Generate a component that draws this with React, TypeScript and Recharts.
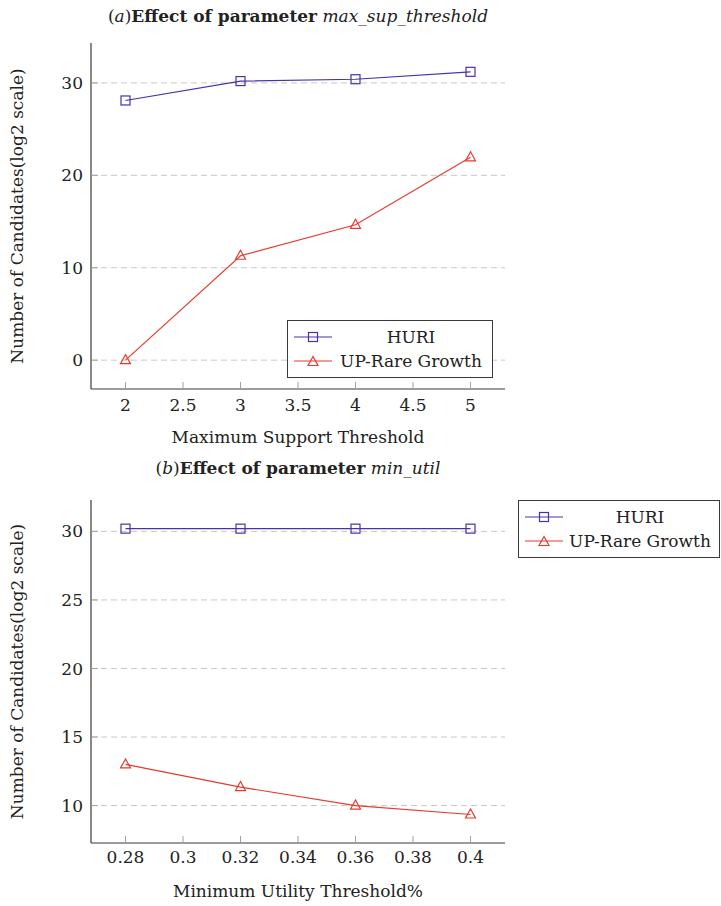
import { LineChart, Line, XAxis, YAxis, CartesianGrid, Legend } from "recharts";

const FONT = '"DejaVu Serif", "Liberation Serif", serif';
const HURI_COLOR = "#4b30a8";
const UP_COLOR = "#e63b2b";
const FRAME = "#3a3a3a";
const TICK = "#a0a0a0";
const GRID = "#c8c8c8";

// (a) effect of max_sup_threshold
const supThresholds = [2, 3, 4, 5];
const supHuri = [28.1, 30.2, 30.4, 31.2];
const supUpRare = [0, 11.3, 14.65, 21.95];
const supXTicks = [2, 2.5, 3, 3.5, 4, 4.5, 5];
const supYTicks = [0, 10, 20, 30];

// (b) effect of min_util
const utilThresholds = [0.28, 0.32, 0.36, 0.4];
const utilHuri = [30.2, 30.2, 30.2, 30.2];
const utilUpRare = [13.0, 11.35, 10.0, 9.35];
const utilXTicks = [0.28, 0.3, 0.32, 0.34, 0.36, 0.38, 0.4];
const utilYTicks = [10, 15, 20, 25, 30];

const supData = supThresholds.map((x, i) => ({
  x,
  huri: supHuri[i],
  upRare: supUpRare[i],
}));

const utilData = utilThresholds.map((x, i) => ({
  x,
  huri: utilHuri[i],
  upRare: utilUpRare[i],
}));

function squareMark(cx: number, cy: number, color: string, key?: string) {
  return (
    <rect
      key={key}
      x={cx - 4.5}
      y={cy - 4.5}
      width={9}
      height={9}
      fill="none"
      stroke={color}
      strokeWidth={1.2}
    />
  );
}

function triangleMark(cx: number, cy: number, color: string, key?: string) {
  return (
    <polygon
      key={key}
      points={`${cx},${cy - 5.5} ${cx - 5},${cy + 3.5} ${cx + 5},${cy + 3.5}`}
      fill="none"
      stroke={color}
      strokeWidth={1.2}
    />
  );
}

const SquareDot = (props: any) => {
  const { cx, cy, index } = props;
  if (cx == null || cy == null) return <g key={`sq-${index}`} />;
  return squareMark(cx, cy, HURI_COLOR, `sq-${index}`);
};

const TriangleDot = (props: any) => {
  const { cx, cy, index } = props;
  if (cx == null || cy == null) return <g key={`tr-${index}`} />;
  return triangleMark(cx, cy, UP_COLOR, `tr-${index}`);
};

function LegendBox({ payload, width }: any) {
  return (
    <div
      style={{
        width,
        boxSizing: "border-box",
        border: `1px solid ${FRAME}`,
        background: "#fff",
        padding: "4px 6px 4px 6px",
        fontFamily: FONT,
        fontSize: 17,
        color: "#222",
      }}
    >
      {(payload || []).map((entry: any) => (
        <div
          key={entry.value}
          style={{ display: "flex", alignItems: "center", height: 24 }}
        >
          <svg width={38} height={14} style={{ flexShrink: 0 }}>
            <line x1={0} y1={7} x2={38} y2={7} stroke={entry.color} strokeWidth={1.2} />
            {entry.dataKey === "huri"
              ? squareMark(19, 7, entry.color)
              : triangleMark(19, 8, entry.color)}
          </svg>
          <span style={{ flex: 1, textAlign: "center", marginLeft: 4, whiteSpace: "nowrap" }}>
            {entry.value}
          </span>
        </div>
      ))}
    </div>
  );
}

const tickStyle = { fill: "#222", fontFamily: FONT, fontSize: 17 };
const labelStyle = { fill: "#222", fontFamily: FONT, fontSize: 17, textAnchor: "middle" as const };

function Title({ letter, param, top }: { letter: string; param: string; top: number }) {
  return (
    <div
      style={{
        position: "absolute",
        left: 0,
        top,
        width: 596,
        textAlign: "center",
        fontFamily: FONT,
        fontSize: 17,
        lineHeight: "24px",
        color: "#222",
        whiteSpace: "nowrap",
      }}
    >
      (<i>{letter}</i>)<b>Effect of parameter</b> <i>{param}</i>
    </div>
  );
}

function Panel(props: {
  data: any[];
  height: number;
  top: number;
  plotHeight: number;
  xDomain: [number, number];
  yDomain: [number, number];
  xTicks: number[];
  yTicks: number[];
  xLabel: string;
  xLabelOffset: number;
  xTickMargin: number;
  legendStyle: any;
  legendWidth: number;
}) {
  const {
    data,
    height,
    top,
    plotHeight,
    xDomain,
    yDomain,
    xTicks,
    yTicks,
    xLabel,
    xLabelOffset,
    xTickMargin,
    legendStyle,
    legendWidth,
  } = props;
  return (
    <LineChart
      width={721}
      height={height}
      data={data}
      margin={{ top, right: 216, bottom: 0, left: 0 }}
      style={{ fontFamily: FONT }}
    >
      <CartesianGrid
        vertical={false}
        stroke={GRID}
        strokeDasharray="6 4"
        horizontalValues={yTicks}
      />
      <XAxis
        dataKey="x"
        type="number"
        domain={xDomain}
        ticks={xTicks}
        interval={0}
        allowDataOverflow
        height={height - top - plotHeight}
        axisLine={{ stroke: FRAME, strokeWidth: 1.2 }}
        tickLine={{ stroke: TICK }}
        tickSize={-7}
        tickMargin={xTickMargin}
        tick={tickStyle}
        label={{
          value: xLabel,
          position: "insideBottom",
          offset: xLabelOffset,
          style: labelStyle,
        }}
      />
      <XAxis
        xAxisId="top"
        orientation="top"
        type="number"
        domain={xDomain}
        ticks={xTicks}
        interval={0}
        allowDataOverflow
        height={0}
        axisLine={{ stroke: FRAME, strokeWidth: 1.2 }}
        tickLine={{ stroke: TICK }}
        tickSize={-7}
        tick={() => <g />}
      />
      <YAxis
        type="number"
        domain={yDomain}
        ticks={yTicks}
        interval={0}
        allowDataOverflow
        width={91}
        axisLine={{ stroke: FRAME, strokeWidth: 1.2 }}
        tickLine={{ stroke: TICK }}
        tickSize={-7}
        tickMargin={15}
        tick={tickStyle}
        label={{
          value: "Number of Candidates(log2 scale)",
          angle: -90,
          position: "insideLeft",
          offset: 17,
          style: labelStyle,
        }}
      />
      <YAxis
        yAxisId="right"
        orientation="right"
        type="number"
        domain={yDomain}
        ticks={yTicks}
        interval={0}
        allowDataOverflow
        width={0}
        axisLine={{ stroke: FRAME, strokeWidth: 1.2 }}
        tickLine={{ stroke: TICK }}
        tickSize={-7}
        tick={() => <g />}
      />
      <Line
        dataKey="huri"
        name="HURI"
        stroke={HURI_COLOR}
        strokeWidth={1.2}
        dot={SquareDot}
        activeDot={false}
        isAnimationActive={false}
      />
      <Line
        dataKey="upRare"
        name="UP-Rare Growth"
        stroke={UP_COLOR}
        strokeWidth={1.2}
        dot={TriangleDot}
        activeDot={false}
        isAnimationActive={false}
      />
      <Legend
        layout="vertical"
        align="center"
        verticalAlign="middle"
        wrapperStyle={{ position: "absolute", ...legendStyle }}
        content={(p: any) => <LegendBox payload={p.payload} width={legendWidth} />}
      />
    </LineChart>
  );
}

export default function App() {
  return (
    <div
      style={{
        position: "absolute",
        left: 0,
        top: 0,
        width: 721,
        height: 906,
        background: "#fff",
      }}
    >
      <Title letter="a" param="max_sup_threshold" top={4} />
      <div style={{ position: "absolute", left: 0, top: 0 }}>
        <Panel
          data={supData}
          height={450}
          top={43}
          plotHeight={346}
          xDomain={[1.7, 5.3]}
          yDomain={[-3.12, 34.32]}
          xTicks={supXTicks}
          yTicks={supYTicks}
          xLabel="Maximum Support Threshold"
          xLabelOffset={7}
          xTickMargin={17}
          legendStyle={{ left: 287, top: 320, width: 206, height: 58 }}
          legendWidth={206}
        />
      </div>
      <Title letter="b" param="min_util" top={456} />
      <div style={{ position: "absolute", left: 0, top: 450 }}>
        <Panel
          data={utilData}
          height={456}
          top={50}
          plotHeight={343}
          xDomain={[0.268, 0.412]}
          yDomain={[7.27, 32.29]}
          xTicks={utilXTicks}
          yTicks={utilYTicks}
          xLabel="Minimum Utility Threshold%"
          xLabelOffset={9}
          xTickMargin={15}
          legendStyle={{ left: 518, top: 50, width: 202, height: 58 }}
          legendWidth={202}
        />
      </div>
    </div>
  );
}
